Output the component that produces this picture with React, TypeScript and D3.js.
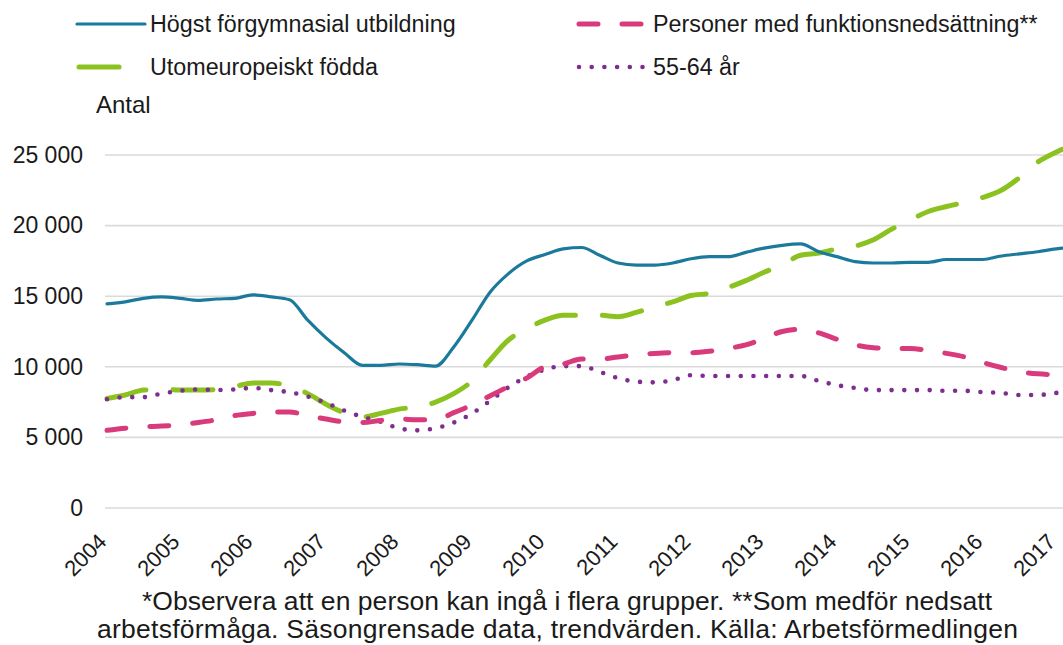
import { useEffect, useRef } from 'react';
import * as d3 from 'd3';

// quarterly points, 2004 Q1 .. 2017 Q1, plus the last month shown
const quarters = [
  2004, 2004.25, 2004.5, 2004.75, 2005, 2005.25, 2005.5, 2005.75,
  2006, 2006.25, 2006.5, 2006.75, 2007, 2007.25, 2007.5, 2007.75,
  2008, 2008.25, 2008.5, 2008.75, 2009, 2009.25, 2009.5, 2009.75,
  2010, 2010.25, 2010.5, 2010.75, 2011, 2011.25, 2011.5, 2011.75,
  2012, 2012.25, 2012.5, 2012.75, 2013, 2013.25, 2013.5, 2013.75,
  2014, 2014.25, 2014.5, 2014.75, 2015, 2015.25, 2015.5, 2015.75,
  2016, 2016.25, 2016.5, 2016.75, 2017, 2017.083,
];

const forgymnasial = [
  14450, 14600, 14850, 14950, 14850, 14700, 14800, 14850,
  15100, 14950, 14750, 13300, 12050, 11000, 10100, 10100,
  10200, 10150, 10050, 11400, 13300, 15300, 16600, 17500,
  17950, 18350, 18450, 17900, 17350, 17200, 17200, 17350,
  17650, 17800, 17800, 18100, 18400, 18600, 18700, 18150,
  17800, 17450, 17350, 17350, 17400, 17400, 17600, 17600,
  17600, 17850, 18000, 18150, 18350, 18400,
];

const funktionsnedsattning = [
  5500, 5650, 5750, 5800, 5900, 6050, 6250, 6550,
  6700, 6800, 6800, 6550, 6300, 6100, 6050, 6200,
  6300, 6250, 6250, 6750, 7300, 7950, 8600, 9200,
  10000, 10200, 10550, 10550, 10700, 10850, 10950, 11000,
  11000, 11100, 11300, 11550, 12000, 12500, 12650, 12400,
  11950, 11550, 11350, 11300, 11300, 11150, 10950, 10700,
  10300, 9950, 9650, 9500, 9450, 9450,
];

const utomeuropeiskt = [
  7750, 8000, 8350, 8400, 8350, 8350, 8400, 8600,
  8850, 8850, 8650, 8100, 7350, 6750, 6450, 6700,
  7000, 7150, 7500, 8100, 9000, 10500, 11900, 12700,
  13300, 13650, 13650, 13650, 13550, 13850, 14250, 14600,
  15050, 15200, 15600, 16100, 16700, 17200, 17900, 18050,
  18350, 18550, 19000, 19750, 20400, 21000, 21350, 21650,
  22000, 22500, 23400, 24500, 25200, 25400,
];

const aldre = [
  7700, 7850, 7850, 8100, 8300, 8400, 8350, 8400,
  8500, 8350, 8200, 7900, 7450, 6900, 6450, 6100,
  5650, 5500, 5650, 6050, 6700, 7600, 8550, 9300,
  9800, 10050, 10050, 9650, 9200, 8950, 8900, 9050,
  9400, 9350, 9350, 9350, 9350, 9350, 9350, 9000,
  8700, 8500, 8350, 8350, 8350, 8350, 8300, 8300,
  8200, 8150, 8000, 8000, 8150, 8200,
];

const years = d3.range(2004, 2018);
const yTicks = [0, 5000, 10000, 15000, 20000, 25000];

const series = [
  { name: 'Högst förgymnasial utbildning', values: forgymnasial, color: '#1b7a9c', width: 3.2, dash: null },
  { name: 'Personer med funktionsnedsättning**', values: funktionsnedsattning, color: '#d93a7b', width: 5, dash: '19 24' },
  { name: 'Utomeuropeiskt födda', values: utomeuropeiskt, color: '#8cc21f', width: 5, dash: '40 27' },
  { name: '55-64 år', values: aldre, color: '#7d2e8f', width: 4.6, dash: '0 12.7' },
];

const drawOrder = [2, 3, 1, 0];

const legendItems = [
  { s: 0, x1: 77, x2: 145, tx: 150, y: 24 },
  { s: 1, x1: 579, x2: 645, tx: 653, y: 24 },
  { s: 2, x1: 79, x2: 145, tx: 150, y: 67 },
  { s: 3, x1: 579, x2: 645, tx: 653, y: 67 },
];

const footnote = [
  '*Observera att en person kan ingå i flera grupper. **Som medför nedsatt',
  'arbetsförmåga. Säsongrensade data, trendvärden. Källa: Arbetsförmedlingen',
];
const footnoteStart = [142, 97];
const footnoteWidths = [850, 921];

export default function App() {
  const svgRef = useRef<SVGSVGElement>(null);

  const width = 1063,
    height = 645,
    marginLeft = 107,
    plotRight = 1056,
    yTop = 155,
    yZero = 508;

  const x = d3.scaleLinear().domain([2004, 2017]).range([marginLeft, plotRight]);
  const y = d3.scaleLinear().domain([0, 25000]).range([yZero, yTop]);

  useEffect(() => {
    const svg = d3.select(svgRef.current);
    svg.selectAll('*').remove();
    const font = 'Liberation Sans, Arial, sans-serif';
    const ink = '#1a1a1a';

    // grid
    svg
      .append('g')
      .selectAll('line')
      .data(yTicks)
      .join('line')
      .attr('x1', 105)
      .attr('x2', width)
      .attr('y1', (d) => y(d))
      .attr('y2', (d) => y(d))
      .attr('stroke', '#dadada')
      .attr('stroke-width', 1.6);

    const yAxis = svg
      .append('g')
      .attr('transform', 'translate(83,0)')
      .call(
        d3
          .axisLeft(y)
          .tickValues(yTicks)
          .tickSize(0)
          .tickPadding(0)
          .tickFormat((d) => d3.format(',')(d as number).replace(/,/g, ' '))
      );
    yAxis.select('.domain').remove();
    yAxis
      .selectAll('text')
      .attr('font-family', font)
      .attr('font-size', 23)
      .attr('fill', ink);

    // x labels, rotated
    svg
      .append('g')
      .selectAll('text')
      .data(years)
      .join('text')
      .attr('transform', (d) => `translate(${x(d) + 1},${543}) rotate(-45)`)
      .attr('text-anchor', 'end')
      .attr('font-family', font)
      .attr('font-size', 22)
      .attr('fill', ink)
      .text((d) => d);

    svg
      .append('text')
      .attr('x', 96)
      .attr('y', 113)
      .attr('font-family', font)
      .attr('font-size', 24)
      .attr('fill', ink)
      .text('Antal');

    const line = d3
      .line<number>()
      .x((_, i) => x(quarters[i]))
      .y((d) => y(d))
      .curve(d3.curveMonotoneX);

    drawOrder.forEach((k) => {
      const s = series[k];
      svg
        .append('path')
        .datum(s.values)
        .attr('d', line)
        .attr('fill', 'none')
        .attr('stroke', s.color)
        .attr('stroke-width', s.width)
        .attr('stroke-linecap', 'round')
        .attr('stroke-linejoin', 'round')
        .attr('stroke-dasharray', s.dash);
    });

    // legend
    const lg = svg.append('g');
    legendItems.forEach(({ s, x1, x2, tx, y: ly }) => {
      const item = series[s];
      lg.append('line')
        .attr('x1', x1)
        .attr('x2', x2)
        .attr('y1', ly)
        .attr('y2', ly)
        .attr('stroke', item.color)
        .attr('stroke-width', item.width)
        .attr('stroke-linecap', 'round')
        .attr('stroke-dasharray', item.dash);
      lg.append('text')
        .attr('x', tx)
        .attr('y', ly + 8)
        .attr('font-family', font)
        .attr('font-size', 23.3)
        .attr('fill', ink)
        .text(item.name);
    });

    svg
      .append('g')
      .selectAll('text')
      .data(footnote)
      .join('text')
      .attr('x', (_, i) => footnoteStart[i])
      .attr('y', (_, i) => 610 + i * 28)
      .attr('font-family', font)
      .attr('font-size', 26.5)
      .attr('textLength', (_, i) => footnoteWidths[i])
      .attr('lengthAdjust', 'spacing')
      .attr('fill', ink)
      .text((d) => d);
  }, []);

  return (
    <div style={{ position: 'absolute', left: 0, top: 0, background: '#fff' }}>
      <svg ref={svgRef} width={width} height={height} viewBox={`0 0 ${width} ${height}`} style={{ display: 'block' }} />
    </div>
  );
}
